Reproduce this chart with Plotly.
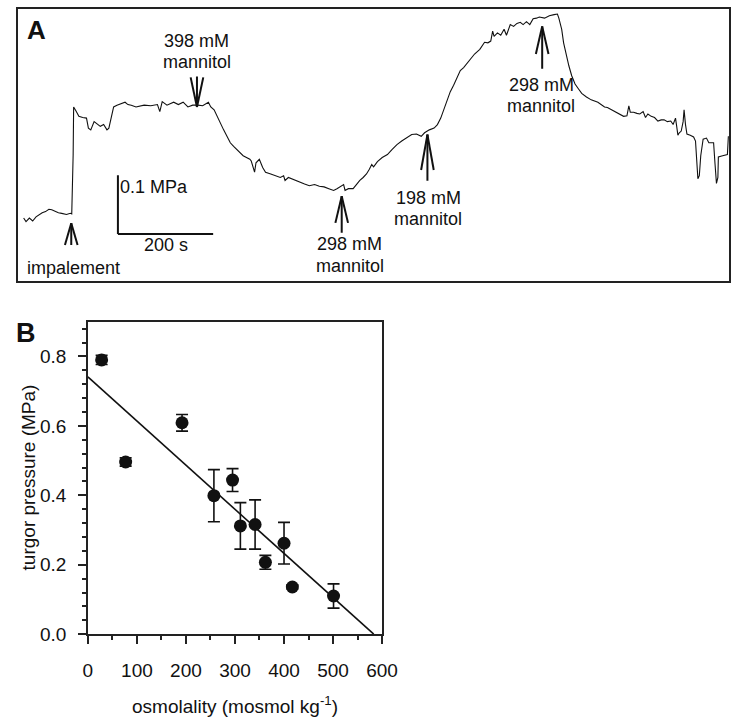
import plotly.graph_objects as go

# ---------------- DATA ----------------
# Panel A: pressure-probe trace (time in s, turgor change in MPa)
TRACE_T = [12,17,24,31,38,44,51,58,65,71,78,85,92,102,110,113,116,117,122,128,136,144,148,153,160,167,173,180,187,191,194,197,201,208,218,225,231,238,248,265,279,293,298,303,313,327,337,347,357,367,378,388,400,405,412,418,425,432,439,446,453,459,466,473,480,487,490,497,500,507,514,520,531,541,551,558,561,568,575,582,592,602,612,623,633,643,653,663,670,677,684,687,694,704,711,718,725,732,738,743,747,755,765,776,786,796,806,816,827,837,847,854,864,874,881,888,895,902,908,915,922,929,936,942,949,959,970,976,980,987,993,997,1000,1007,1014,1021,1026,1034,1041,1048,1055,1061,1068,1075,1082,1089,1095,1106,1116,1126,1133,1136,1142,1146,1151,1157,1163,1170,1177,1184,1194,1204,1218,1225,1232,1238,1245,1252,1259,1265,1272,1279,1283,1286,1293,1300,1306,1313,1318,1323,1330,1337,1344,1351,1357,1364,1371,1376,1381,1383,1386,1389,1393,1397,1399,1402,1405,1412,1419,1423,1425,1428,1431,1434,1439,1446,1451,1456,1461,1464,1467,1470,1471,1480,1490,1492]
TRACE_P = [0.001,-0.005,0.001,-0.004,0.003,0.006,0.010,0.012,0.016,0.015,0.012,0.010,0.009,0.007,0.009,0.008,0.109,0.190,0.183,0.174,0.172,0.171,0.154,0.151,0.165,0.160,0.157,0.160,0.151,0.154,0.165,0.174,0.190,0.193,0.196,0.198,0.194,0.193,0.190,0.193,0.192,0.194,0.182,0.199,0.193,0.198,0.194,0.198,0.190,0.193,0.193,0.192,0.198,0.190,0.185,0.174,0.162,0.151,0.140,0.129,0.123,0.118,0.112,0.107,0.104,0.101,0.098,0.079,0.095,0.101,0.087,0.079,0.076,0.073,0.070,0.073,0.065,0.070,0.068,0.065,0.062,0.059,0.056,0.058,0.055,0.054,0.051,0.048,0.051,0.054,0.058,0.048,0.051,0.051,0.059,0.065,0.070,0.076,0.084,0.092,0.088,0.097,0.104,0.109,0.118,0.126,0.132,0.137,0.143,0.144,0.140,0.146,0.151,0.154,0.160,0.171,0.188,0.204,0.216,0.227,0.241,0.252,0.257,0.263,0.271,0.280,0.288,0.296,0.300,0.299,0.302,0.319,0.310,0.316,0.312,0.322,0.312,0.330,0.327,0.332,0.334,0.330,0.335,0.330,0.340,0.341,0.343,0.341,0.345,0.347,0.348,0.341,0.322,0.299,0.280,0.260,0.243,0.229,0.221,0.213,0.207,0.202,0.198,0.194,0.190,0.189,0.186,0.183,0.181,0.178,0.174,0.175,0.192,0.181,0.181,0.179,0.178,0.182,0.172,0.178,0.174,0.172,0.166,0.168,0.168,0.165,0.166,0.160,0.171,0.160,0.142,0.146,0.149,0.165,0.185,0.160,0.144,0.142,0.139,0.132,0.098,0.068,0.073,0.107,0.135,0.137,0.129,0.129,0.129,0.093,0.060,0.070,0.105,0.107,0.109,0.140]

EVENT_T = [112, 376, 680, 860, 1101]
EVENT_P = [-0.008, 0.190, 0.038, 0.143, 0.327]
EVENT_DIR = ["up", "down", "up", "up", "up"]
EVENT_LABELS = [["impalement"], ["398 mM", "mannitol"], ["298 mM", "mannitol"],
                ["198 mM", "mannitol"], ["298 mM", "mannitol"]]

SCALE_T = 200      # s
SCALE_P = 0.1      # MPa
SCALE_LABEL_T = "200 s"
SCALE_LABEL_P = "0.1 MPa"

# Panel B: turgor pressure vs osmolality
OSMOLALITY = [28, 77, 192, 257, 295, 311, 341, 362, 400, 417, 501]
TURGOR = [0.790, 0.496, 0.609, 0.399, 0.444, 0.312, 0.316, 0.207, 0.262, 0.136, 0.110]
TURGOR_ERR = [0.013, 0.012, 0.024, 0.075, 0.033, 0.067, 0.071, 0.020, 0.060, 0.006, 0.035]
FIT_X = [0, 583]
FIT_Y = [0.741, 0.0]

X_TICKS_B = [0, 100, 200, 300, 400, 500, 600]
Y_TICKS_B = [0.0, 0.2, 0.4, 0.6, 0.8]

# ---------------- LAYOUT HELPERS ----------------
W, H = 746, 723
FONT = "Liberation Sans, Arial, Helvetica, sans-serif"
INK = "#111111"
A_FONT = 18


def fx(px):
    return px / W


def fy(py):
    return 1 - py / H


# panel A frame (pixels)
A_L, A_R, A_T, A_B = 13.3, 745.0, 9.0, 285.0
A_XR = [0, 1493.4]
A_YR = [-0.1055, 0.3568]
S_PER_PX = (A_XR[1] - A_XR[0]) / (A_R - A_L)
P_PER_PX = (A_YR[1] - A_YR[0]) / (A_B - A_T)

# panel B frame (pixels)
B_L, B_R, B_T, B_B = 85.3, 388.0, 326.7, 644.0

fig = go.Figure()

# ---- Panel A trace
fig.add_trace(go.Scatter(x=TRACE_T, y=TRACE_P, mode="lines",
                         line=dict(color=INK, width=1.1),
                         xaxis="x", yaxis="y", showlegend=False, hoverinfo="skip"))

shapes = []
annotations = []

# arrows
ARROW_LEN_PX = [22, 31, 37, 47, 43]
HEAD_LEN_PX = [22, 30, 27, 36, 28]
HEAD_HALF_PX = 6.5
LABEL_GAP_PX = [23.4, 14, 11.6, 16.7, 16]
LINE_STEP_PX = 21.5
LABEL_XSHIFT = [2, 0, 8, 1, -1]
for t, p, d, lines, L, hl, gap, xs in zip(EVENT_T, EVENT_P, EVENT_DIR, EVENT_LABELS,
                                         ARROW_LEN_PX, HEAD_LEN_PX, LABEL_GAP_PX, LABEL_XSHIFT):
    sgn = -1 if d == "up" else 1
    tail = p + sgn * L * P_PER_PX
    hy = p + sgn * hl * P_PER_PX
    hw = HEAD_HALF_PX * S_PER_PX
    for (x0, y0, x1, y1) in [(t, p, t, tail), (t, p, t - hw, hy), (t, p, t + hw, hy)]:
        shapes.append(dict(type="line", xref="x", yref="y", x0=x0, y0=y0, x1=x1, y1=y1,
                           line=dict(color=INK, width=2)))
    n = len(lines)
    for i, txt in enumerate(lines):
        if d == "up":
            ys = -(gap + i * LINE_STEP_PX)
        else:
            ys = gap + (n - 1 - i) * LINE_STEP_PX
        annotations.append(dict(xref="x", yref="y", x=t, y=tail, text=txt, showarrow=False,
                                xanchor="center", yanchor="middle", yshift=ys, xshift=xs,
                                font=dict(family=FONT, size=A_FONT, color=INK)))

# scale bar
SB_T0 = 210
SB_P0 = -0.0263
shapes.append(dict(type="line", xref="x", yref="y", x0=SB_T0, y0=SB_P0, x1=SB_T0,
                   y1=SB_P0 + SCALE_P, line=dict(color=INK, width=2)))
shapes.append(dict(type="line", xref="x", yref="y", x0=SB_T0, y0=SB_P0,
                   x1=SB_T0 + SCALE_T, y1=SB_P0, line=dict(color=INK, width=2)))
annotations.append(dict(xref="x", yref="y", x=SB_T0, y=SB_P0 + 0.8 * SCALE_P,
                        text=SCALE_LABEL_P, showarrow=False, xanchor="left",
                        yanchor="middle", xshift=0,
                        font=dict(family=FONT, size=A_FONT, color=INK)))
annotations.append(dict(xref="x", yref="y", x=SB_T0 + SCALE_T / 2, y=SB_P0,
                        text=SCALE_LABEL_T, showarrow=False, xanchor="center",
                        yanchor="middle", yshift=-11,
                        font=dict(family=FONT, size=A_FONT, color=INK)))

# ---- Panel B
fig.add_trace(go.Scatter(x=FIT_X, y=FIT_Y, mode="lines",
                         line=dict(color=INK, width=1.6),
                         xaxis="x2", yaxis="y2", showlegend=False, hoverinfo="skip"))
fig.add_trace(go.Scatter(x=OSMOLALITY, y=TURGOR, mode="markers",
                         marker=dict(color=INK, size=13, line=dict(width=0)),
                         error_y=dict(type="data", array=TURGOR_ERR, visible=True,
                                      color=INK, thickness=1.6, width=6),
                         xaxis="x2", yaxis="y2", showlegend=False, hoverinfo="skip"))

# panel letters
annotations.append(dict(xref="paper", yref="paper", x=fx(32.5), y=fy(30), text="<b>A</b>",
                        showarrow=False, xanchor="center", yanchor="middle",
                        font=dict(family=FONT, size=26, color=INK)))
annotations.append(dict(xref="paper", yref="paper", x=fx(22), y=fy(337.7), text="<b>B</b>",
                        showarrow=False, xanchor="center", yanchor="middle",
                        font=dict(family=FONT, size=27, color=INK)))
# axis titles of panel B
annotations.append(dict(xref="paper", yref="paper", x=fx(24.5), y=fy(485),
                        text="turgor pressure (MPa)", textangle=-90, showarrow=False,
                        xanchor="center", yanchor="middle",
                        font=dict(family=FONT, size=19, color=INK)))
annotations.append(dict(xref="paper", yref="paper", x=fx(236.6), y=fy(716),
                        text="osmolality (mosmol kg<sup>-1</sup>)", showarrow=False,
                        xanchor="center", yanchor="middle",
                        font=dict(family=FONT, size=19, color=INK)))

axis_line = "#222222"
fig.update_layout(
    width=W, height=H,
    margin=dict(l=0, r=0, t=0, b=0),
    paper_bgcolor="white", plot_bgcolor="white",
    showlegend=False,
    font=dict(family=FONT, color=INK),
    xaxis=dict(domain=[fx(A_L), fx(A_R)], range=A_XR, anchor="y",
               showline=True, mirror=True, linecolor=axis_line, linewidth=1.7,
               showticklabels=False, ticks="", showgrid=False, zeroline=False),
    yaxis=dict(domain=[fy(A_B), fy(A_T)], range=A_YR, anchor="x",
               showline=True, mirror=True, linecolor=axis_line, linewidth=1.7,
               showticklabels=False, ticks="", showgrid=False, zeroline=False),
    xaxis2=dict(domain=[fx(B_L), fx(B_R)], range=[0, 600], anchor="y2",
                tickmode="array", tickvals=X_TICKS_B, ticktext=[str(v) for v in X_TICKS_B],
                showline=True, mirror=True, linecolor=axis_line, linewidth=1.5,
                ticks="outside", ticklen=8, tickwidth=1.5, tickcolor=axis_line,
                minor=dict(tickvals=[50, 150, 250, 350, 450, 550], ticks="outside",
                           ticklen=4, tickwidth=1.5, tickcolor=axis_line),
                tickfont=dict(family=FONT, size=19, color=INK),
                ticklabelstandoff=10,
                showgrid=False, zeroline=False),
    yaxis2=dict(domain=[fy(B_B), fy(B_T)], range=[0, 0.9], anchor="x2",
                tickmode="array", tickvals=Y_TICKS_B,
                ticktext=[f"{v:.1f}" for v in Y_TICKS_B],
                showline=True, mirror=True, linecolor=axis_line, linewidth=1.5,
                ticks="outside", ticklen=8, tickwidth=1.5, tickcolor=axis_line,
                minor=dict(dtick=0.04, tick0=0, ticks="outside", ticklen=4,
                           tickwidth=1.5, tickcolor=axis_line),
                tickfont=dict(family=FONT, size=19, color=INK),
                ticklabelstandoff=8,
                showgrid=False, zeroline=False),
    shapes=shapes,
    annotations=annotations,
)

fig.write_html("out.html")
